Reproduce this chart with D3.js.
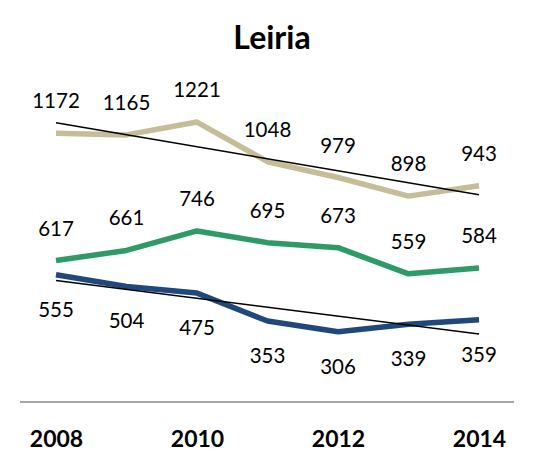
<!DOCTYPE html>
<html>
<head>
<meta charset="utf-8">
<script src="https://cdn.jsdelivr.net/npm/d3@7"></script>
<style>
  body { margin: 0; background: #fff; }
  text { font-family: Lato, "Open Sans", sans-serif; }
</style>
</head>
<body>
<div id="chart"></div>
<script>
var width = 542;
var height = 473;

var years = [2008, 2009, 2010, 2011, 2012, 2013, 2014];
var tickYears = [2008, 2010, 2012, 2014];
var tan = [1172, 1165, 1221, 1048, 979, 898, 943];
var green = [617, 661, 746, 695, 673, 559, 584];
var navy = [555, 504, 475, 353, 306, 339, 359];

var svg = d3.select("#chart")
  .append("svg")
  .attr("width", width)
  .attr("height", height);

var x = d3.scaleLinear().domain([2008, 2014]).range([56, 479]);
var y = d3.scaleLinear().domain([0, 1400]).range([402, 81]);

// title
svg.append("text")
  .attr("x", width / 2 + 1)
  .attr("y", 49)
  .attr("text-anchor", "middle")
  .style("font-size", "32px")
  .style("font-weight", "bold")
  .text("Leiria");

// baseline
svg.append("line")
  .attr("x1", 20).attr("x2", 514)
  .attr("y1", y(0)).attr("y2", y(0))
  .attr("stroke", "#a6a6a6")
  .attr("stroke-width", 2);

// x labels
var xAxis = d3.axisBottom(x).tickValues(tickYears).tickFormat(d3.format("d")).tickSize(0).tickPadding(0);
var gx = svg.append("g")
  .attr("transform", "translate(0,447)")
  .call(xAxis);
gx.select(".domain").remove();
gx.selectAll("text")
  .attr("dy", 0)
  .style("font-family", "Lato, sans-serif")
  .style("font-size", "23px")
  .style("font-weight", "bold")
  .style("fill", "#000");

var series = [
  { values: tan, color: "#c4bd97", labelDy: -25, trend: true },
  { values: green, color: "#2e9b66", labelDy: -25, trend: false },
  { values: navy, color: "#1f497d", labelDy: 42, trend: true }
];

var line = d3.line()
  .x(function(d, i) { return x(years[i]); })
  .y(function(d) { return y(d); });

series.forEach(function(s) {
  svg.append("path")
    .datum(s.values)
    .attr("d", line)
    .attr("fill", "none")
    .attr("stroke", s.color)
    .attr("stroke-width", 5.5)
    .attr("stroke-linejoin", "round");
});

// linear trend lines
series.forEach(function(s) {
  if (!s.trend) return;
  var mx = d3.mean(years);
  var my = d3.mean(s.values);
  var num = d3.sum(years, function(yr, i) { return (yr - mx) * (s.values[i] - my); });
  var den = d3.sum(years, function(yr) { return (yr - mx) * (yr - mx); });
  var slope = num / den;
  var ends = [years[0], years[years.length - 1]];
  svg.append("line")
    .attr("x1", x(ends[0])).attr("y1", y(my + slope * (ends[0] - mx)))
    .attr("x2", x(ends[1])).attr("y2", y(my + slope * (ends[1] - mx)))
    .attr("stroke", "#000")
    .attr("stroke-width", 1.5);
});

// data labels
series.forEach(function(s) {
  svg.append("g")
    .selectAll("text")
    .data(s.values)
    .enter()
    .append("text")
    .attr("x", function(d, i) { return x(years[i]); })
    .attr("y", function(d) { return y(d) + s.labelDy; })
    .attr("text-anchor", "middle")
    .style("font-size", "20.5px")
    .text(function(d) { return d; });
});
</script>
</body>
</html>
